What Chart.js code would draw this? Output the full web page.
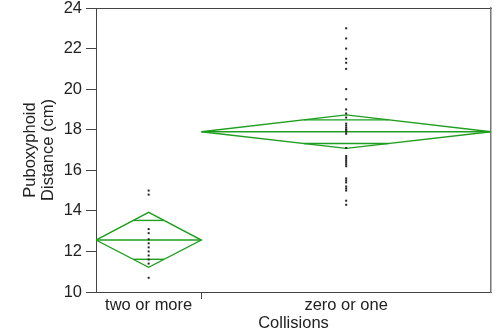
<!DOCTYPE html>
<html><head><meta charset="utf-8">
<script src="https://cdn.jsdelivr.net/npm/chart.js@4/dist/chart.umd.min.js"></script>
<style>html,body{margin:0;padding:0;background:#fff;}canvas{display:block;}</style>
</head><body>
<canvas id="c" width="497" height="333"></canvas>
<script>
const groups = ['two or more', 'zero or one'];
const groupCounts = [12, 33];
const means = [12.56, 17.90];
const ciLow = [11.22, 17.08];
const ciHigh = [13.93, 18.73];
const twoOrMore = [15.0, 14.8, 13.1, 12.9, 12.6, 12.4, 12.2, 12.0, 11.8, 11.6, 11.4, 10.7];
const zeroOrOne = [23.0, 22.5, 22.0, 21.5, 21.3, 21.0, 20.0, 19.5, 19.0, 18.8, 18.6, 18.3, 18.2, 18.1, 18.0, 18.0, 17.9, 17.8,
  17.1, 16.7, 16.6, 16.5, 16.4, 16.3, 16.2, 15.6, 15.5, 15.4, 15.2, 15.1, 15.0, 14.5, 14.3];
const groupValues = [twoOrMore, zeroOrOne];
const yMin = 10, yMax = 24, yStep = 2;
const xTitle = 'Collisions';
const yTitle = ['Puboxyphoid', 'Distance (cm)'];

const GREEN = '#1f9e1f';
const AXIS = '#444';
const FONT = {family: 'Liberation Sans, Arial, Helvetica, sans-serif', size: 16.5, lineHeight: 1.1};

const starts = []; let acc = 0;
groupCounts.forEach(n => { starts.push(acc); acc += n; });
const total = acc;
const centers = starts.map((s, i) => s + groupCounts[i] / 2);

const datasets = [];
groups.forEach((g, i) => {
  const x0 = starts[i], x1 = starts[i] + groupCounts[i], xc = centers[i];
  const m = means[i], hi = ciHigh[i], lo = ciLow[i];
  const lineDs = (pts) => ({type: 'scatter', data: pts, showLine: true, fill: false, borderColor: GREEN,
    borderWidth: 1.4, pointRadius: 0, tension: 0, order: 2});
  datasets.push(lineDs([{x: x0, y: m}, {x: xc, y: hi}, {x: x1, y: m}, {x: xc, y: lo}, {x: x0, y: m}]));
  datasets.push(lineDs([{x: x0, y: m}, {x: x1, y: m}]));
  const k = Math.SQRT1_2, f = 1 - k;
  const up = m + (hi - m) * k, dn = m - (m - lo) * k;
  datasets.push(lineDs([{x: xc - f * (xc - x0), y: up}, {x: xc + f * (x1 - xc), y: up}]));
  datasets.push(lineDs([{x: xc - f * (xc - x0), y: dn}, {x: xc + f * (x1 - xc), y: dn}]));
  datasets.push({type: 'scatter', data: groupValues[i].map(v => ({x: xc, y: v})), pointStyle: 'rect',
    pointRadius: 1.4, backgroundColor: '#222', borderColor: '#222', borderWidth: 0, order: 1});
});

const noPad = s => { s.paddingTop = 0; s.paddingBottom = 0; };

new Chart(document.getElementById('c'), {
  type: 'scatter',
  data: {datasets},
  options: {
    responsive: false, animation: false,
    layout: {padding: {left: 0, top: 8, right: 6, bottom: 0}},
    plugins: {legend: {display: false}, tooltip: {enabled: false}},
    scales: {
      x: {
        type: 'linear', position: 'bottom', min: 0, max: total,
        afterBuildTicks: s => { s.ticks = [{value: centers[0]}, {value: starts[1]}, {value: centers[1]}]; },
        afterFit: s => { s.height = 41; s.paddingLeft = 0; s.paddingRight = 0; },
        ticks: {autoSkip: false, maxRotation: 0, padding: -3, color: '#222', font: FONT,
          callback: v => { const i = centers.indexOf(v); return i >= 0 ? groups[i] : ''; }},
        grid: {drawOnChartArea: false, drawTicks: true, tickLength: 7,
          color: c => (c.tick && c.tick.value === starts[1]) ? AXIS : 'rgba(0,0,0,0)'},
        border: {display: true, color: AXIS, width: 1},
        title: {display: true, text: xTitle, color: '#222', font: FONT, padding: {top: 0, bottom: 0}}
      },
      y: {
        type: 'linear', position: 'left', min: yMin, max: yMax,
        afterFit: s => { s.width = 96; noPad(s); },
        ticks: {stepSize: yStep, padding: 4, color: '#222', font: FONT},
        grid: {drawOnChartArea: false, drawTicks: true, tickLength: 10, color: AXIS},
        border: {display: true, color: AXIS, width: 1},
        title: {display: true, text: yTitle, color: '#222', font: FONT, padding: {top: 21, bottom: 0}}
      },
      x2: {
        type: 'linear', position: 'top', min: 0, max: total, display: true,
        afterFit: s => { s.height = 0; s.paddingLeft = 0; s.paddingRight = 0; },
        ticks: {display: false}, grid: {display: false},
        border: {display: true, color: AXIS, width: 1}
      },
      y2: {
        type: 'linear', position: 'right', min: yMin, max: yMax, display: true,
        afterFit: s => { s.width = 0; noPad(s); },
        ticks: {display: false}, grid: {display: false},
        border: {display: true, color: '#777', width: 1.5}
      }
    }
  }
});
</script>
</body></html>
